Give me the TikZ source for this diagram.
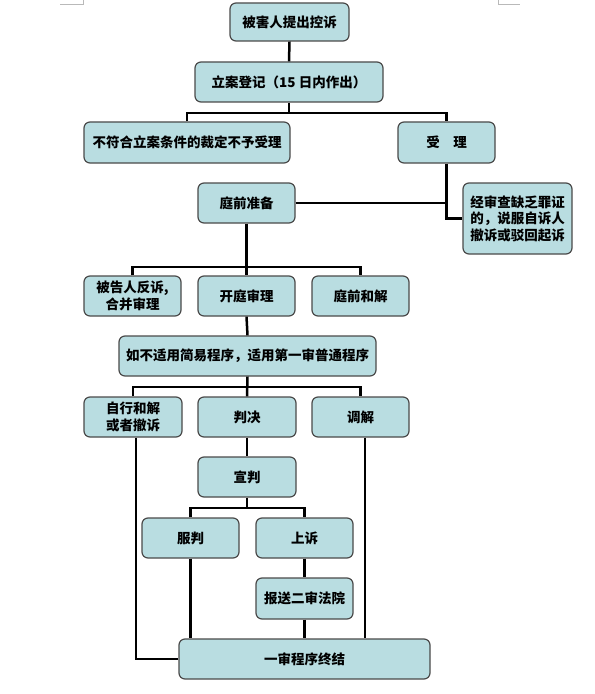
\documentclass[tikz,border=0pt]{standalone}
\usepackage{fontspec}
\newfontfamily\cjk{Noto Sans CJK SC}
\definecolor{boxfill}{HTML}{B9DDE1}
\definecolor{boxborder}{HTML}{4A4A4A}
\tikzset{
  box/.style={draw=boxborder, line width=1.2bp, fill=boxfill, rounded corners=6bp,
    minimum height=40bp, inner sep=0pt, align=center,
    font=\cjk\bfseries\fontsize{13.5bp}{16.5bp}\selectfont},
  conn/.style={draw=black, line width=2.5bp, line join=miter},
  cornermark/.style={draw=gray!55, line width=0.8bp}
}
\begin{document}
\begin{tikzpicture}[x=1bp,y=-1bp]
\useasboundingbox (0,0) rectangle (595,694);
\fill[white] (0,0) rectangle (595,694);
\draw[cornermark] (60,4) -- (83,4) -- (83,0);
\draw[cornermark] (498,0) -- (498,4) -- (520,4);
% nodes
\node[box, minimum width=119bp, minimum height=38bp] (b1) at (289.5,22) {被害人提出控诉};
\node[box, minimum width=188bp] (b2) at (289,82) {立案登记（15 日内作出）};
\node[box, minimum width=206bp, minimum height=41bp] (b3) at (187,142.5) {不符合立案条件的裁定不予受理};
\node[box, minimum width=97bp, minimum height=41bp] (b4) at (446.5,142.5) {受　理};
\node[box, minimum width=97bp] (b5) at (246.5,203) {庭前准备};
\node[box, minimum width=109bp, minimum height=71bp] (b6) at (517.5,218.5) {经审查缺乏罪证\\的，说服自诉人\\撤诉或驳回起诉};
\node[box, minimum width=97bp] (b7) at (132.5,296) {被告人反诉,\\合并审理};
\node[box, minimum width=97bp] (b8) at (246.5,296) {开庭审理};
\node[box, minimum width=97bp] (b9) at (360.5,296) {庭前和解};
\node[box, minimum width=257bp] (b10) at (247.5,356) {如不适用简易程序，适用第一审普通程序};
\node[box, minimum width=98bp] (b11) at (133,417) {自行和解\\或者撤诉};
\node[box, minimum width=98bp] (b12) at (247,417) {判决};
\node[box, minimum width=97bp] (b13) at (360.5,417) {调解};
\node[box, minimum width=98bp] (b14) at (247,477) {宣判};
\node[box, minimum width=97bp] (b15) at (190.5,538) {服判};
\node[box, minimum width=97bp] (b16) at (304.5,538) {上诉};
\node[box, minimum width=97bp, minimum height=41bp] (b17) at (304.5,598.5) {报送二审法院};
\node[box, minimum width=251bp] (b18) at (304.5,659) {一审程序终结};
% junctions
\coordinate (j1) at (b2.south |- 0,113);
\coordinate (j2) at (b5.south |- 0,267);
\coordinate (j3) at (b10.south |- 0,387);
\coordinate (j4) at (b14.south |- 0,508);
% connectors
\draw[conn] (b1.south) -- (b2.north);
\draw[conn] (b2.south) -- (j1);
\draw[conn] (b3.north) |- (j1) -| (b4.north);
\draw[conn] (b4.south) |- (b6.west);
\draw[conn] (b5.east) -- (b4.south |- b5.east);
\draw[conn] (b5.south) -- (b8.north);
\draw[conn] (b7.north) |- (j2) -| (b9.north);
\draw[conn] (b8.south) -- (b10.north);
\draw[conn] (b10.south) -- (b12.north);
\draw[conn] (b11.north) |- (j3) -| (b13.north);
\draw[conn] (b12.south) -- (b14.north);
\draw[conn] (b14.south) -- (j4);
\draw[conn] (b15.north) |- (j4) -| (b16.north);
\draw[conn] (b16.south) -- (b17.north);
\draw[conn] (b17.south) -- (b18.north);
\draw[conn] (b15.south) -- (b15.south |- b18.north);
\draw[conn] ([xshift=4.5bp]b13.south) -- ([xshift=4.5bp]b13.south |- b18.north);
\draw[conn] ([xshift=3bp]b11.south) |- (b18.west);
\end{tikzpicture}
\end{document}
